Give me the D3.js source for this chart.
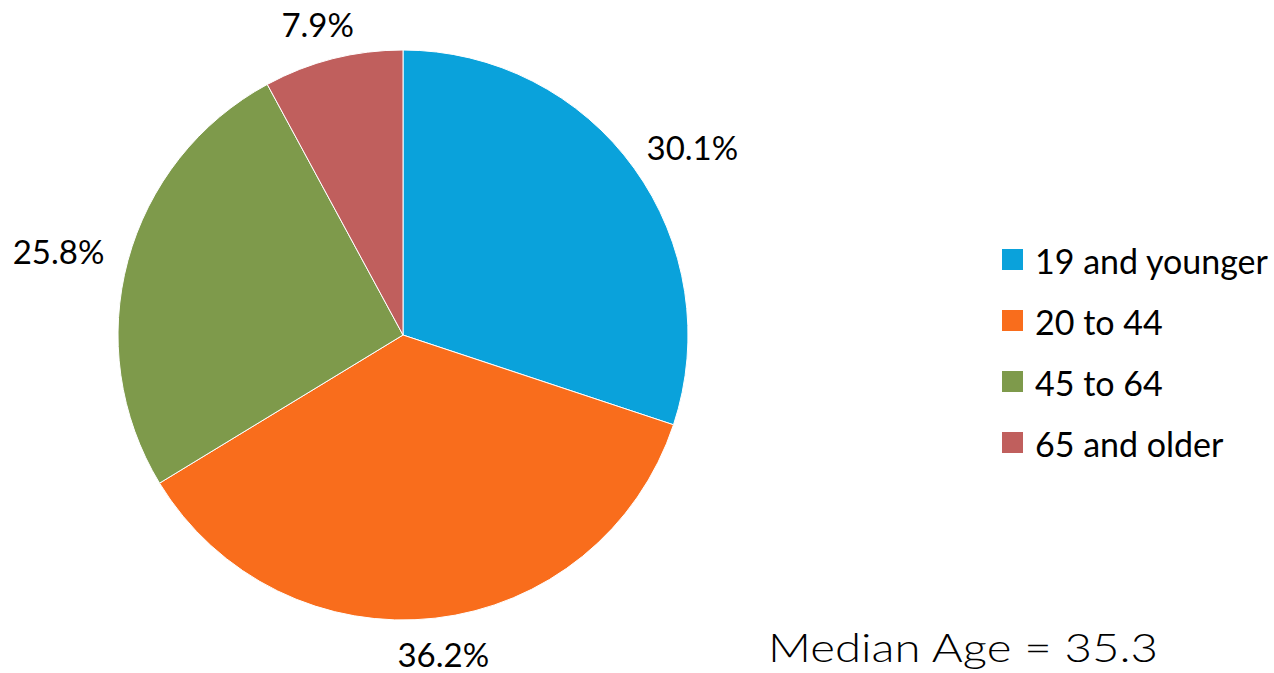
<!DOCTYPE html>
<html>
<head>
<meta charset="utf-8">
<script src="https://cdn.jsdelivr.net/npm/d3@7"></script>
<style>
  html, body { margin: 0; padding: 0; background: #fff; overflow: hidden; }
  svg { display: block; }
  text { font-family: Lato, "Open Sans", sans-serif; fill: #000; }
</style>
</head>
<body>
<div id="chart-area"></div>
<script>
/***** Data *****/
const categories = ["19 and younger", "20 to 44", "45 to 64", "65 and older"];
const shares     = [30.1, 36.2, 25.8, 7.9];
const colors     = ["#0AA2DB", "#F96D1C", "#7E9A4B", "#C05F5D"];
const footnote   = "Median Age = 35.3";

/***** Setup *****/
const width = 1274, height = 673,
      cx = 403, cy = 335, radius = 285;

const svg = d3.select("#chart-area").append("svg")
  .attr("width", width).attr("height", height);

const pie = d3.pie().sort(null).value(d => d.value);
const arc = d3.arc().innerRadius(0).outerRadius(radius);

const data = categories.map((c, i) => ({ name: c, value: shares[i], color: colors[i] }));
const arcs = pie(data);

const gPie = svg.append("g").attr("transform", `translate(${cx},${cy})`);

gPie.selectAll("path").data(arcs).enter().append("path")
  .attr("d", arc)
  .attr("fill", d => d.data.color)
  .attr("stroke", "#fff")
  .attr("stroke-width", 1);

// labels outside the slices, pushed out along the mid angle
const labelR = radius + 26, halfH = 10;
gPie.selectAll("text.lbl").data(arcs).enter().append("text")
  .attr("class", "lbl")
  .attr("font-size", 33)
  .attr("text-anchor", "middle")
  .attr("dominant-baseline", "central")
  .text(d => d.data.value.toFixed(1) + "%")
  .each(function(d) {
    const a = (d.startAngle + d.endAngle) / 2;
    const w = this.getBBox().width;
    const px = labelR * Math.sin(a), py = -labelR * Math.cos(a);
    d3.select(this)
      .attr("x", px + Math.sin(a) * w / 2)
      .attr("y", py - Math.cos(a) * halfH);
  });

/***** Legend *****/
const legend = svg.append("g").attr("transform", "translate(1002,249)");
const rows = legend.selectAll("g").data(data).enter().append("g")
  .attr("transform", (d, i) => `translate(0,${i * 61})`);
rows.append("rect").attr("width", 21).attr("height", 21).attr("fill", d => d.color);
rows.append("text")
  .attr("x", 33).attr("y", 11)
  .attr("dominant-baseline", "central")
  .attr("font-size", 34)
  .text(d => d.name);

/***** Footnote (kept fully inside the frame) *****/
svg.append("text")
  .attr("x", 768).attr("y", 662)
  .attr("font-size", 39)
  .attr("font-weight", 300)
  .attr("textLength", 390)
  .attr("lengthAdjust", "spacingAndGlyphs")
  .text(footnote);
</script>
</body>
</html>
